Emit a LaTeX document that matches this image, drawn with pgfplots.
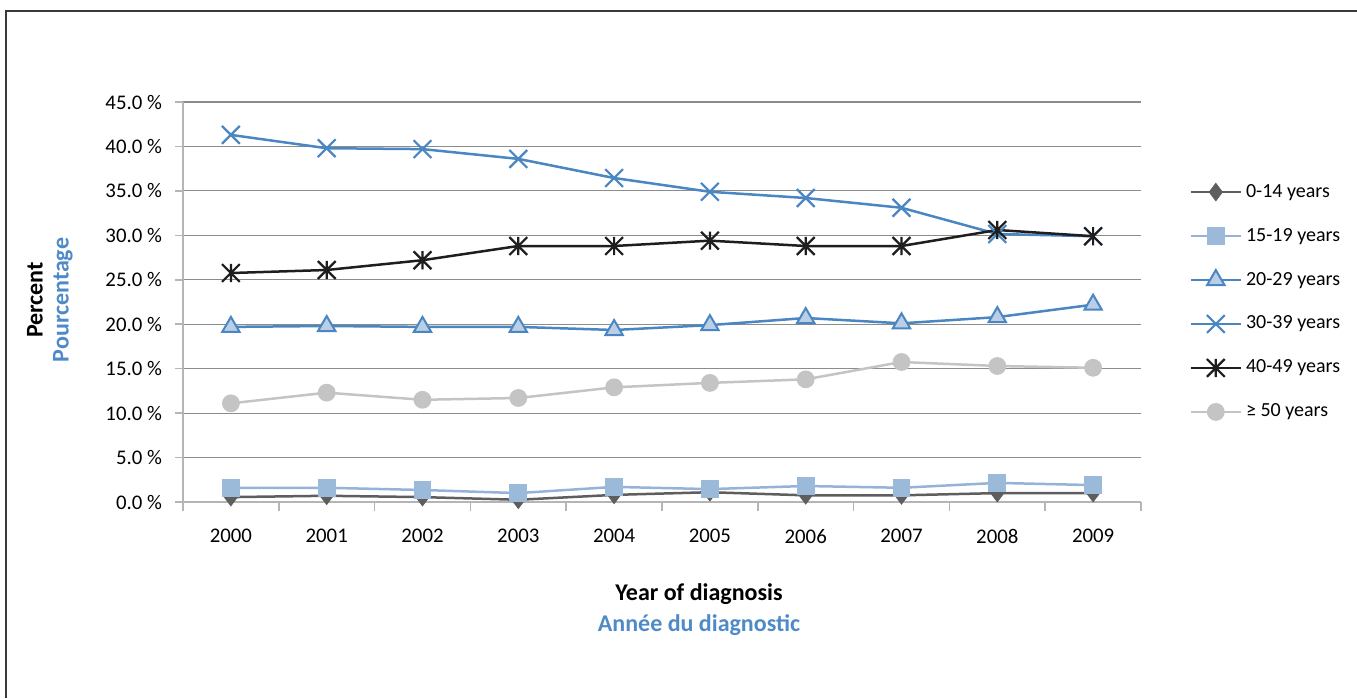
\documentclass[border=0pt]{standalone}
\usepackage{fontspec}
\setmainfont{Carlito}
\usepackage{pgfplots}
\pgfplotsset{compat=1.18}
\definecolor{frame}{HTML}{3A3A3A}
\definecolor{gridc}{HTML}{8C8C8C}
\definecolor{axisc}{HTML}{B5B5B5}
\definecolor{cA}{HTML}{5E5E5E}
\definecolor{cB}{HTML}{95B3D7}
\definecolor{cBf}{HTML}{9BBAD9}
\definecolor{cC}{HTML}{4A86C2}
\definecolor{cCf}{HTML}{BACEE6}
\definecolor{cD}{HTML}{4A86C2}
\definecolor{cE}{HTML}{1E1E1E}
\definecolor{cF}{HTML}{C4C4C4}
\definecolor{lblue}{HTML}{4F8AC8}
\pgfdeclareplotmark{xstar}{%
  \pgfpathmoveto{\pgfqpointpolar{45}{\pgfplotmarksize}}%
  \pgfpathlineto{\pgfqpointpolar{225}{\pgfplotmarksize}}%
  \pgfpathmoveto{\pgfqpointpolar{135}{\pgfplotmarksize}}%
  \pgfpathlineto{\pgfqpointpolar{315}{\pgfplotmarksize}}%
  \pgfpathmoveto{\pgfqpoint{0pt}{0.72\pgfplotmarksize}}%
  \pgfpathlineto{\pgfqpoint{0pt}{-0.72\pgfplotmarksize}}%
  \pgfusepathqstroke}
\begin{document}
\fontsize{10}{12}\selectfont
\begin{tikzpicture}
\useasboundingbox (0,0) rectangle (678.5pt,349pt);
\draw[line width=1pt, color=frame] (3pt,0) -- (3pt,343.5pt) -- (678.5pt,343.5pt);
\node[font=\fontsize{12}{14}\selectfont\bfseries] at (349.5pt,52pt) {Year of diagnosis};
\node[font=\fontsize{12}{14}\selectfont\bfseries, text=lblue] at (349.5pt,36.5pt) {Année du diagnostic};
\node[font=\fontsize{12}{14}\selectfont\bfseries, rotate=90] at (17.5pt,199pt) {Percent};
\node[font=\fontsize{12}{14}\selectfont\bfseries, rotate=90, text=lblue] at (31.5pt,199pt) {Pourcentage};
\begin{axis}[
  at={(91.5pt,98pt)}, anchor=south west,
  scale only axis, width=479pt, height=200pt,
  xmin=-0.5, xmax=9.5, ymin=0, ymax=45,
  axis lines*=left,
  axis line style={draw=axisc, line width=0.8pt},
  xtick={0,...,9},
  xticklabels={2000,2001,2002,2003,2004,2005,2006,2007,2008,2009},
  minor xtick={-0.5,0.5,...,9.5},
  major x tick style={draw=none},
  minor x tick style={draw=axisc, line width=0.8pt},
  minor tick length=4.5pt,
  ytick={0,5,...,45},
  major y tick style={draw=axisc, line width=0.8pt},
  major tick length=4pt,
  tick align=outside,
  ymajorgrids=true,
  major grid style={draw=gridc, line width=0.6pt},
  yticklabel={\pgfmathprintnumber[fixed,fixed zerofill,precision=1]{\tick}\ \%},
  /pgf/number format/assume math mode=true,
  xticklabel style={yshift=-6pt},
  yticklabel style={xshift=-3pt},
  tick label style={font=\fontsize{10.4}{12}\selectfont},
  legend style={at={(1.044,0.5)}, anchor=west, draw=none, fill=none,
    font=\fontsize{10}{12}\selectfont, row sep=10pt},
  legend cell align=left,
  legend image code/.code={\draw[mark repeat=2,mark phase=2,#1] plot coordinates {(0pt,0pt) (12.5pt,0pt) (25pt,0pt)};},
  every axis plot/.append style={line width=1.25pt},
]
\addplot[color=cA, mark=diamond*, mark size=4.3pt, mark options={fill=cA, line width=0.5pt}] coordinates {
(0,0.55) (1,0.7) (2,0.55) (3,0.25) (4,0.8) (5,1.1) (6,0.75) (7,0.75) (8,1.0) (9,1.0)};
\addlegendentry{0-14 years}
\addplot[color=cB, mark=square*, mark size=4.2pt, mark options={fill=cBf, draw=cBf, line width=0.5pt}] coordinates {
(0,1.6) (1,1.6) (2,1.35) (3,1.0) (4,1.7) (5,1.45) (6,1.8) (7,1.6) (8,2.15) (9,1.9)};
\addlegendentry{15-19 years}
\addplot[color=cC, mark=triangle*, mark size=5pt, mark options={fill=cCf, draw=cC, line width=1pt}] coordinates {
(0,19.7) (1,19.8) (2,19.7) (3,19.7) (4,19.35) (5,19.9) (6,20.7) (7,20.1) (8,20.8) (9,22.2)};
\addlegendentry{20-29 years}
\addplot[color=cD, mark=x, mark size=6.3pt, mark options={line width=1.1pt}] coordinates {
(0,41.3) (1,39.8) (2,39.7) (3,38.6) (4,36.45) (5,34.9) (6,34.2) (7,33.1) (8,30.15) (9,29.9)};
\addlegendentry{30-39 years}
\addplot[color=cE, mark=xstar, mark size=6.3pt, mark options={line width=1.1pt}] coordinates {
(0,25.76) (1,26.1) (2,27.2) (3,28.8) (4,28.8) (5,29.4) (6,28.8) (7,28.8) (8,30.6) (9,29.9)};
\addlegendentry{40-49 years}
\addplot[color=cF, mark=*, mark size=4.2pt, mark options={fill=cF, draw=cF, line width=0.5pt}] coordinates {
(0,11.1) (1,12.3) (2,11.5) (3,11.7) (4,12.9) (5,13.4) (6,13.8) (7,15.75) (8,15.3) (9,15.1)};
\addlegendentry{≥ 50 years}
\end{axis}
\end{tikzpicture}
\end{document}
